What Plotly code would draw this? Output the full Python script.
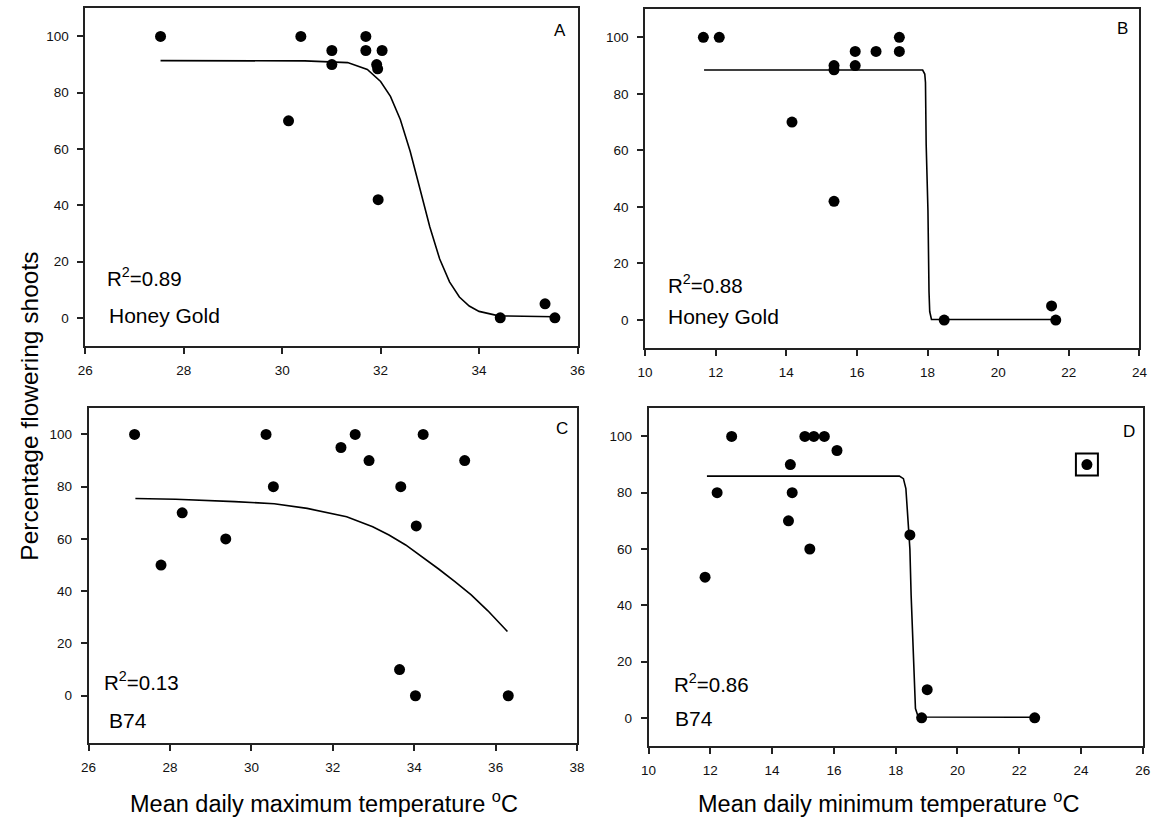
import plotly.graph_objects as go

W, H = 1160, 820
FONT = "Arial, Liberation Sans, sans-serif"

# ---------------- data ----------------
# Panel A: Honey Gold, mean daily maximum temperature
a_x = [27.53, 30.38, 30.13, 31.01, 31.01, 31.70, 31.70, 32.03, 31.92, 31.94, 31.95, 34.43, 35.34, 35.54]
a_y = [100, 100, 70, 95, 90, 100, 95, 95, 90, 88.5, 42, 0, 5, 0]
a_fit_x = [27.53, 30.46, 31.33, 31.73, 32.0, 32.2, 32.4, 32.6, 32.8, 33.0, 33.2, 33.4, 33.6, 33.8, 34.0, 34.4, 35.54]
a_fit_y = [91.4, 91.3, 90.7, 88.3, 84.0, 78.7, 70.5, 59.2, 45.8, 32.3, 20.9, 12.8, 7.4, 4.2, 2.3, 0.7, 0.4]

# Panel B: Honey Gold, mean daily minimum temperature
b_x = [11.65, 12.10, 14.16, 15.35, 15.35, 15.35, 15.95, 15.95, 16.54, 17.20, 17.20, 18.47, 21.51, 21.63]
b_y = [100, 100, 70, 90, 88.5, 42, 95, 90, 95, 100, 95, 0, 5, 0]
b_fit_x = [11.67, 17.86, 17.92, 17.94, 17.96, 18.01, 18.04, 18.06, 18.11, 21.63]
b_fit_y = [88.4, 88.4, 87.0, 84.0, 62.0, 38.7, 10.0, 3.0, 0.2, 0.2]

# Panel C: B74, mean daily maximum temperature
c_x = [27.13, 27.78, 28.30, 29.37, 30.36, 30.54, 32.20, 32.55, 32.89, 33.67, 34.05, 34.22, 35.24, 33.64, 34.03, 36.31]
c_y = [100, 50, 70, 60, 100, 80, 95, 100, 90, 80, 65, 100, 90, 10, 0, 0]
c_fit_x = [27.15, 28.14, 29.59, 30.56, 31.37, 32.34, 32.98, 33.38, 33.79, 34.19, 34.60, 35.00, 35.40, 35.81, 36.29]
c_fit_y = [75.5, 75.2, 74.3, 73.5, 71.7, 68.5, 64.7, 61.5, 57.7, 53.2, 48.5, 43.7, 38.6, 32.5, 24.6]

# Panel D: B74, mean daily minimum temperature
d_x = [11.83, 12.22, 12.69, 14.53, 14.59, 14.65, 15.22, 15.06, 15.35, 15.69, 16.10, 18.46, 18.84, 19.02, 22.50, 24.19]
d_y = [50, 80, 100, 70, 90, 80, 60, 100, 100, 100, 95, 65, 0, 10, 0, 90]
d_fit_x = [11.89, 18.12, 18.25, 18.33, 18.40, 18.46, 18.50, 18.59, 18.64, 18.73, 22.50]
d_fit_y = [85.9, 85.9, 85.0, 81.5, 70.0, 60.0, 43.6, 19.9, 3.3, 0.3, 0.2]
d_outlier_x = [24.19]
d_outlier_y = [90]

x_ticks_a = [26, 28, 30, 32, 34, 36]
x_ticks_b = [10, 12, 14, 16, 18, 20, 22, 24]
x_ticks_c = [26, 28, 30, 32, 34, 36, 38]
x_ticks_d = [10, 12, 14, 16, 18, 20, 22, 24, 26]
y_ticks = [0, 20, 40, 60, 80, 100]

r2_labels = ["R<sup>2</sup>=0.89", "R<sup>2</sup>=0.88", "R<sup>2</sup>=0.13", "R<sup>2</sup>=0.86"]
cultivars = ["Honey Gold", "Honey Gold", "B74", "B74"]
panel_letters = ["A", "B", "C", "D"]

# ---------------- layout helpers ----------------
def px(x):
    return x / W

def py(y):
    return 1 - y / H

# pixel boxes of each panel: (left, right, top, bottom)
boxes = [
    (78.3, 577.5, 8.3, 346.0),
    (646.0, 1147.3, 9.0, 348.3),
    (81.7, 577.0, 408.3, 743.3),
    (649.5, 1150.7, 408.3, 746.0),
]
xranges = [[26, 36], [10, 24], [26, 38], [10, 26]]
yranges = [[-10, 110], [-10, 110], [-18.2, 110], [-10, 110]]
xticks = [x_ticks_a, x_ticks_b, x_ticks_c, x_ticks_d]

fig = go.Figure()

datasets = [
    (a_x, a_y, a_fit_x, a_fit_y),
    (b_x, b_y, b_fit_x, b_fit_y),
    (c_x, c_y, c_fit_x, c_fit_y),
    (d_x, d_y, d_fit_x, d_fit_y),
]

for i, (sx, sy, fx, fy) in enumerate(datasets):
    n = "" if i == 0 else str(i + 1)
    fig.add_trace(go.Scatter(x=fx, y=fy, mode="lines", line=dict(color="black", width=1.6),
                             xaxis="x" + n, yaxis="y" + n, showlegend=False, hoverinfo="skip"))
    fig.add_trace(go.Scatter(x=sx, y=sy, mode="markers",
                             marker=dict(color="black", size=11, line=dict(width=0)),
                             xaxis="x" + n, yaxis="y" + n, showlegend=False))

fig.add_trace(go.Scatter(x=d_outlier_x, y=d_outlier_y, mode="markers",
                         marker=dict(symbol="square-open", size=22, color="black", line=dict(width=2, color="black")),
                         xaxis="x4", yaxis="y4", showlegend=False))

axis_common = dict(
    showline=True, linecolor="#222222", linewidth=1.5, mirror=True,
    ticks="outside", ticklen=6, tickwidth=1.5, tickcolor="#222222",
    showgrid=False, zeroline=False,
    tickfont=dict(family=FONT, size=13.5, color="#111111"),
)

layout = dict(
    width=W, height=H, autosize=False,
    margin=dict(l=0, r=0, t=0, b=0),
    paper_bgcolor="white", plot_bgcolor="white",
    showlegend=False,
)

for i, (l, r, t, b) in enumerate(boxes):
    n = "" if i == 0 else str(i + 1)
    layout["xaxis" + n] = dict(axis_common, domain=[px(l), px(r)], range=xranges[i],
                               tickmode="array", tickvals=xticks[i], ticklabelstandoff=5,
                               anchor="y" + n)
    layout["yaxis" + n] = dict(axis_common, domain=[py(b), py(t)], range=yranges[i],
                               tickmode="array", tickvals=y_ticks, ticklabelstandoff=6,
                               anchor="x" + n)

fig.update_layout(**layout)

ann = []
# panel letters
letter_pos = [(560, 30), (1130, 28), (562, 428), (1137, 431)]
for (x, y), s in zip(letter_pos, panel_letters):
    ann.append(dict(x=px(x), y=py(y), xref="paper", yref="paper", text=s, showarrow=False,
                    xanchor="center", yanchor="middle", font=dict(family=FONT, size=17, color="black")))
# R2 labels and cultivar names
r2_pos = [(98, 277), (667, 284), (95, 681), (673, 683)]
cv_pos = [(100, 315), (667, 316), (100, 720), (674, 718)]
for (x, y), s in zip(r2_pos, r2_labels):
    ann.append(dict(x=px(x), y=py(y), xref="paper", yref="paper", text=s, showarrow=False,
                    xanchor="left", yanchor="middle", font=dict(family=FONT, size=20.5, color="black")))
for (x, y), s in zip(cv_pos, cultivars):
    ann.append(dict(x=px(x), y=py(y), xref="paper", yref="paper", text=s, showarrow=False,
                    xanchor="left", yanchor="middle", font=dict(family=FONT, size=21, color="black")))
# axis titles
ann.append(dict(x=px(21), y=py(406), xref="paper", yref="paper", text="Percentage flowering shoots",
                textangle=-90, showarrow=False, xanchor="center", yanchor="middle",
                font=dict(family=FONT, size=24.5, color="black")))
ann.append(dict(x=px(320), y=py(802), xref="paper", yref="paper",
                text="Mean daily maximum temperature <sup>o</sup>C", showarrow=False,
                xanchor="center", yanchor="middle", font=dict(family=FONT, size=23.5, color="black")))
ann.append(dict(x=px(893), y=py(802), xref="paper", yref="paper",
                text="Mean daily minimum temperature <sup>o</sup>C", showarrow=False,
                xanchor="center", yanchor="middle", font=dict(family=FONT, size=23.5, color="black")))

fig.update_layout(annotations=ann)
fig.write_html(
    "out.html",
    config={"responsive": False, "displayModeBar": False},
    post_script="document.body.style.margin='0px';document.body.style.overflow='hidden';"
                "document.documentElement.style.overflow='hidden';",
)
